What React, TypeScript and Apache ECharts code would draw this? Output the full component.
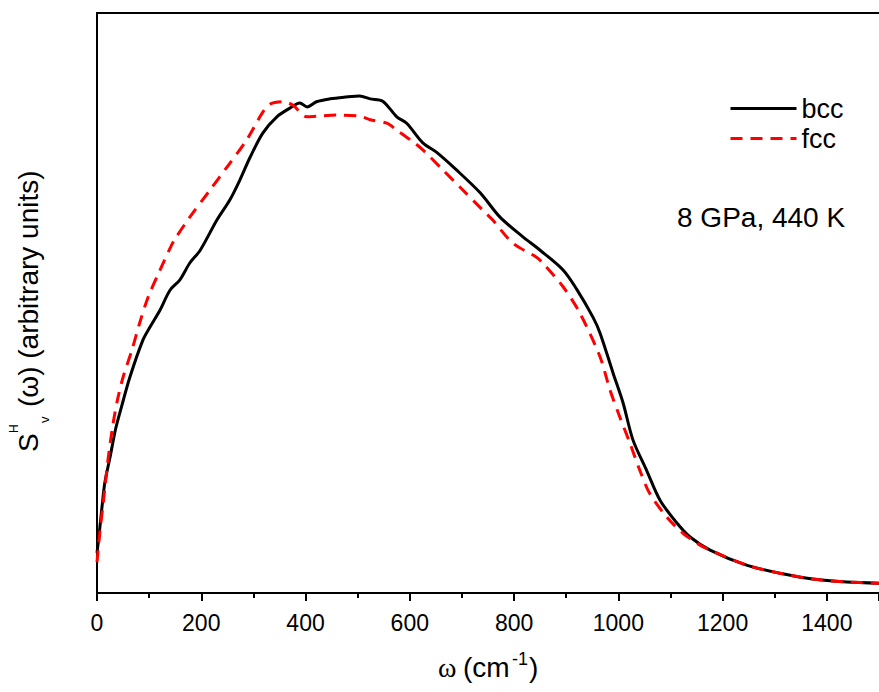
import React, { useEffect, useRef } from "react";
import * as echarts from "echarts";

// Frequency (cm^-1) and intensity (arbitrary units, 0..100 scale)
const bccX = [0, 4, 10, 15, 25, 36, 47, 63, 88, 102, 121, 140, 159, 178, 198, 230, 255, 274, 293, 318, 345, 370, 389, 403, 421, 447, 476, 504, 524, 548, 575, 594, 625, 651, 690, 735, 773, 817, 850, 894, 920, 951, 965, 990, 1009, 1028, 1054, 1080, 1112, 1137, 1176, 1246, 1310, 1373, 1438, 1500];
const bccY = [6.9, 10.0, 15.2, 19.0, 23.4, 28.4, 32.1, 37.2, 43.6, 45.9, 48.8, 52.2, 54.0, 56.9, 59.1, 64.3, 67.8, 71.2, 75.0, 79.3, 82.1, 83.6, 84.5, 83.8, 84.7, 85.2, 85.5, 85.7, 85.2, 84.8, 82.1, 81.0, 77.6, 76.0, 72.9, 69.0, 64.8, 61.4, 59.1, 55.7, 52.4, 47.6, 44.8, 37.9, 32.8, 26.4, 21.2, 16.0, 12.1, 9.7, 7.4, 4.8, 3.4, 2.4, 1.9, 1.7];

const fccX = [0, 6, 12, 21, 31, 40, 50, 67, 82, 98, 121, 140, 148, 178, 217, 249, 287, 318, 332, 357, 376, 402, 421, 460, 504, 524, 556, 575, 606, 625, 664, 696, 740, 759, 798, 843, 855, 894, 926, 965, 984, 1003, 1022, 1041, 1060, 1093, 1124, 1156, 1176, 1246, 1310, 1373, 1438, 1500];
const fccY = [5.3, 10.9, 15.5, 22.9, 29.3, 33.6, 37.2, 41.9, 46.6, 51.0, 55.7, 59.4, 60.8, 64.8, 69.5, 73.4, 78.1, 82.9, 84.3, 84.7, 84.1, 82.1, 82.2, 82.4, 82.2, 81.6, 81.0, 79.8, 77.8, 76.4, 72.9, 70.0, 66.0, 64.3, 60.3, 57.9, 56.9, 52.8, 48.3, 40.7, 35.0, 30.3, 25.9, 21.2, 17.2, 13.1, 10.3, 8.3, 7.4, 4.8, 3.4, 2.4, 1.9, 1.7];

const seriesNames = ["bcc", "fcc"];
const annotation = "8 GPa, 440 K";

const FONT = "'Liberation Sans', Arial, sans-serif";

export default function App() {
  const ref = useRef<HTMLDivElement>(null);
  useEffect(() => {
    if (!ref.current) return;
    const chart = echarts.init(ref.current, undefined, { renderer: "svg" });
    const bcc = bccX.map((x, i) => [x, bccY[i]]);
    const fcc = fccX.map((x, i) => [x, fccY[i]]);
    chart.setOption({
      animation: false,
      backgroundColor: "#ffffff",
      textStyle: { fontFamily: FONT },
      grid: { left: 97, top: 13, right: 0, bottom: 99, containLabel: false },
      legend: {
        orient: "vertical",
        left: 724,
        top: 90,
        itemWidth: 66,
        itemHeight: 14,
        itemGap: 3,
        itemStyle: { color: "transparent", borderWidth: 0, opacity: 0 },
        lineStyle: { width: 3 },
        textStyle: { fontSize: 27, color: "#000", fontFamily: FONT },
        data: seriesNames,
      },
      xAxis: [
        {
          type: "value",
          position: "bottom",
          min: 0,
          max: 1500,
          interval: 200,
          axisLine: { show: true, lineStyle: { color: "#000", width: 2 } },
          axisTick: { show: true, length: 8, lineStyle: { color: "#000", width: 2 } },
          minorTick: { show: true, splitNumber: 2, length: 5, lineStyle: { color: "#000", width: 2 } },
          axisLabel: {
            color: "#000",
            fontSize: 23,
            margin: 18,
            showMaxLabel: false,
            fontFamily: FONT,
            formatter: (v: number) => String(v),
          },
          splitLine: { show: false },
          minorSplitLine: { show: false },
        },
        {
          type: "value",
          position: "top",
          min: 0,
          max: 1500,
          axisLine: { show: true, onZero: false, lineStyle: { color: "#000", width: 2 } },
          axisTick: { show: false },
          axisLabel: { show: false },
          splitLine: { show: false },
        },
      ],
      yAxis: {
        type: "value",
        min: 0,
        max: 100,
        axisLine: { show: true, lineStyle: { color: "#000", width: 2 } },
        axisTick: { show: false },
        axisLabel: { show: false },
        splitLine: { show: false },
      },
      series: [
        {
          name: seriesNames[0],
          type: "line",
          data: bcc,
          showSymbol: false,
          symbol: "none",
          smooth: 0.3,
          lineStyle: { color: "#000000", width: 3 },
          itemStyle: { color: "#000000" },
          z: 3,
        },
        {
          name: seriesNames[1],
          type: "line",
          data: fcc,
          showSymbol: false,
          symbol: "none",
          smooth: 0.3,
          lineStyle: { color: "#ff0000", width: 3, type: [12, 8] },
          itemStyle: { color: "#ff0000" },
          z: 4,
        },
      ],
      graphic: [
        {
          type: "text",
          left: 677,
          top: 203,
          style: { text: annotation, fontSize: 28, fill: "#000", fontFamily: FONT },
        },
        {
          type: "group",
          children: [
            { type: "text", x: 438, y: 667, style: { text: "ω", fontSize: 28, fill: "#000", fontFamily: "'Liberation Serif', serif", verticalAlign: "middle", align: "left" } },
            { type: "text", x: 463, y: 667, style: { text: "(cm", fontSize: 28, fill: "#000", fontFamily: FONT, verticalAlign: "middle", align: "left" } },
            { type: "text", x: 512, y: 659, style: { text: "-1", fontSize: 18, fill: "#000", fontFamily: FONT, verticalAlign: "middle", align: "left" } },
            { type: "text", x: 529, y: 667, style: { text: ")", fontSize: 28, fill: "#000", fontFamily: FONT, verticalAlign: "middle", align: "left" } },
          ],
        },
        {
          type: "group",
          x: 28,
          y: 452,
          rotation: Math.PI / 2,
          children: [
            { type: "text", x: 0, y: 0, style: { text: "S", fontSize: 28, fill: "#000", fontFamily: FONT, verticalAlign: "middle", align: "left" } },
            { type: "text", x: 19, y: -14, style: { text: "H", fontSize: 12, fill: "#000", fontFamily: FONT, verticalAlign: "middle", align: "left" } },
            { type: "text", x: 29, y: 16, style: { text: "v", fontSize: 13, fill: "#000", fontFamily: FONT, verticalAlign: "middle", align: "left" } },
            { type: "text", x: 45, y: 0, style: { text: "(ω) (arbitrary units)", fontSize: 28, fill: "#000", fontFamily: FONT, verticalAlign: "middle", align: "left" } },
          ],
        },
      ],
    });
    return () => chart.dispose();
  }, []);
  return (
    <div
      ref={ref}
      style={{ position: "fixed", left: 0, top: 0, width: 879, height: 692, background: "#fff" }}
    />
  );
}
